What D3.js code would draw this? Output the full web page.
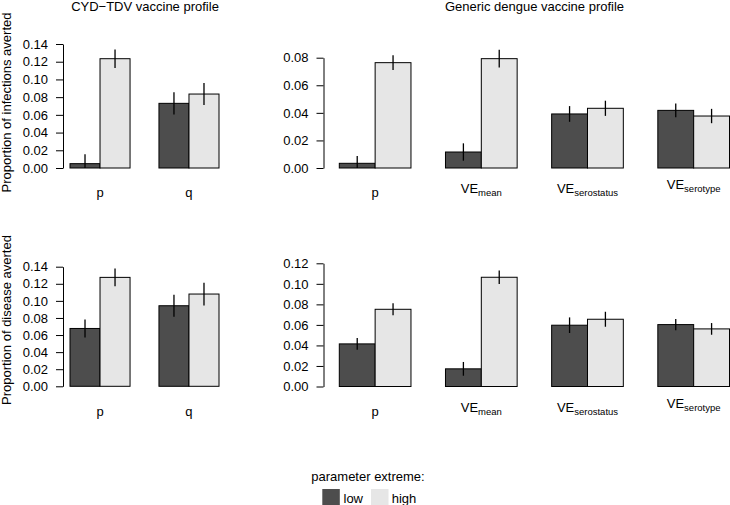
<!DOCTYPE html>
<html>
<head>
<meta charset="utf-8">
<script src="https://cdn.jsdelivr.net/npm/d3@7"></script>
<style>
  html, body { margin: 0; padding: 0; background: #fff; }
  svg { display: block; font-family: "Liberation Sans", Arial, Helvetica, sans-serif; }
  text, tspan { fill: #000; }
</style>
</head>
<body>
<svg id="chart" width="730" height="505"></svg>
<script>
// ---------------- data ----------------
const cydParams = ["p", "q"];
const genericParams = ["p", "VEmean", "VEserostatus", "VEserotype"];
const extremes = ["low", "high"];

const cydTicks = [0, 0.02, 0.04, 0.06, 0.08, 0.10, 0.12, 0.14];
const genInfTicks = [0, 0.02, 0.04, 0.06, 0.08];
const genDisTicks = [0, 0.02, 0.04, 0.06, 0.08, 0.10, 0.12];

// Proportion of infections averted
const infCydLow = [0.0049, 0.0730];
const infCydLowErr = [0.0106, 0.0126];
const infCydHigh = [0.1234, 0.0835];
const infCydHighErr = [0.0105, 0.0124];
const infGenLow = [0.0034, 0.0116, 0.0392, 0.0418];
const infGenLowErr = [0.0053, 0.0063, 0.0057, 0.0050];
const infGenHigh = [0.0764, 0.0793, 0.0433, 0.0377];
const infGenHighErr = [0.0053, 0.0064, 0.0055, 0.0052];

// Proportion of disease averted
const disCydLow = [0.0677, 0.0943];
const disCydLowErr = [0.0106, 0.0130];
const disCydHigh = [0.1275, 0.1080];
const disCydHighErr = [0.0104, 0.0133];
const disGenLow = [0.0415, 0.0172, 0.0597, 0.0603];
const disGenLowErr = [0.0057, 0.0067, 0.0076, 0.0055];
const disGenHigh = [0.0752, 0.1064, 0.0655, 0.0561];
const disGenHighErr = [0.0058, 0.0065, 0.0073, 0.0057];

// ---------------- layout ----------------
const colors = { low: "#4d4d4d", high: "#e6e6e6" };
const FS = 13;
const svg = d3.select("#chart");

const panels = [
  { params: cydParams, low: infCydLow, lowErr: infCydLowErr, high: infCydHigh, highErr: infCydHighErr,
    ticks: cydTicks, axisX: 63, x0: 70, x1: 219, base: 168, top: 44, labelBase: 196.5 },
  { params: genericParams, low: infGenLow, lowErr: infGenLowErr, high: infGenHigh, highErr: infGenHighErr,
    ticks: genInfTicks, axisX: 323.5, x0: 339.3, x1: 729.5, base: 168, top: 57.7, labelBase: 196.5 },
  { params: cydParams, low: disCydLow, lowErr: disCydLowErr, high: disCydHigh, highErr: disCydHighErr,
    ticks: cydTicks, axisX: 63, x0: 70, x1: 219, base: 386.3, top: 266.7, labelBase: 415.5 },
  { params: genericParams, low: disGenLow, lowErr: disGenLowErr, high: disGenHigh, highErr: disGenHighErr,
    ticks: genDisTicks, axisX: 323.5, x0: 339.3, x1: 729.5, base: 386.5, top: 263.3, labelBase: 415.5 }
];

const labelParts = {
  p: ["p", null, 0],
  q: ["q", null, 0],
  VEmean: ["VE", "mean", -4],
  VEserostatus: ["VE", "serostatus", -4],
  VEserotype: ["VE", "serotype", -8]
};

panels.forEach(P => {
  const g = svg.append("g");
  const maxTick = P.ticks[P.ticks.length - 1];
  const y = d3.scaleLinear().domain([0, maxTick]).range([P.base, P.top]);
  const x = d3.scaleBand().domain(P.params).range([P.x0, P.x1]).paddingInner(0.325).paddingOuter(0);
  const xi = d3.scaleBand().domain(extremes).range([0, x.bandwidth()]).padding(0);

  const rows = [];
  P.params.forEach((k, i) => {
    rows.push({ k, e: "low", v: P.low[i], err: P.lowErr[i] });
    rows.push({ k, e: "high", v: P.high[i], err: P.highErr[i] });
  });

  g.selectAll("rect.bar").data(rows).join("rect")
    .attr("class", "bar")
    .attr("x", d => x(d.k) + xi(d.e))
    .attr("width", xi.bandwidth())
    .attr("y", d => y(d.v))
    .attr("height", d => y(0) - y(d.v))
    .attr("fill", d => colors[d.e])
    .attr("stroke", "#000")
    .attr("stroke-width", 1);

  g.selectAll("line.err").data(rows).join("line")
    .attr("class", "err")
    .attr("x1", d => x(d.k) + xi(d.e) + xi.bandwidth() / 2)
    .attr("x2", d => x(d.k) + xi(d.e) + xi.bandwidth() / 2)
    .attr("y1", d => y(Math.max(0, d.v - d.err)))
    .attr("y2", d => y(d.v + d.err))
    .attr("stroke", "#000")
    .attr("stroke-width", 1.3);

  const axis = d3.axisLeft(y).tickValues(P.ticks).tickFormat(d3.format(".2f"))
    .tickSize(7).tickSizeOuter(0).tickPadding(8);
  const ag = g.append("g").attr("transform", `translate(${P.axisX},0)`).call(axis);
  ag.attr("font-size", null).attr("font-family", null);
  ag.selectAll("text").attr("font-size", FS).attr("fill", "#000");
  ag.selectAll("line, path").attr("stroke", "#000").attr("stroke-width", 1);

  // category labels
  P.params.forEach(k => {
    const [main, sub, dyOff] = labelParts[k];
    const t = g.append("text")
      .attr("x", x(k) + x.bandwidth() / 2)
      .attr("y", P.labelBase + dyOff)
      .attr("text-anchor", "middle")
      .attr("font-size", FS)
      .attr("fill", "#000");
    t.append("tspan").attr("fill", "#000").text(main);
    if (sub) t.append("tspan").attr("font-size", 9.5).attr("dy", 3).attr("fill", "#000").text(sub);
  });
});

// panel titles
svg.append("text").attr("x", 145).attr("y", 11).attr("text-anchor", "middle")
  .attr("font-size", FS).text("CYD\u2212TDV vaccine profile");
svg.append("text").attr("x", 534.5).attr("y", 11).attr("text-anchor", "middle")
  .attr("font-size", FS).text("Generic dengue vaccine profile");

// y-axis titles
svg.append("text").attr("transform", "translate(10.8,102.5) rotate(-90)").attr("text-anchor", "middle")
  .attr("font-size", FS).text("Proportion of infections averted");
svg.append("text").attr("transform", "translate(10.8,320) rotate(-90)").attr("text-anchor", "middle")
  .attr("font-size", FS).text("Proportion of disease averted");

// legend
const lg = svg.append("g");
lg.append("text").attr("x", 368).attr("y", 481).attr("text-anchor", "middle")
  .attr("font-size", FS).text("parameter extreme:");
const legendItems = [
  { e: "low", label: "low", sx: 322.3, tx: 343.5 },
  { e: "high", label: "high", sx: 371, tx: 391.7 }
];
legendItems.forEach(it => {
  lg.append("rect").attr("x", it.sx).attr("y", 489).attr("width", 17.5).attr("height", 16)
    .attr("fill", colors[it.e]);
  lg.append("text").attr("x", it.tx).attr("y", 502.5).attr("font-size", FS).text(it.label);
});
</script>
</body>
</html>
